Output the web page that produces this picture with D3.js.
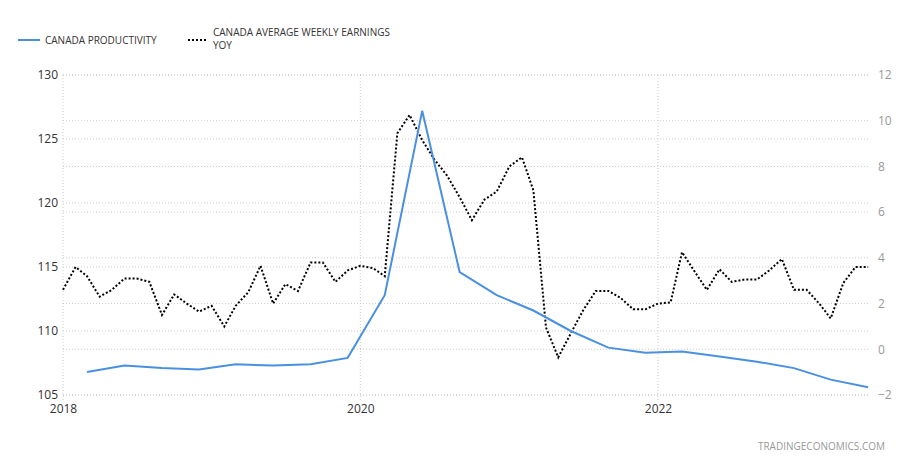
<!DOCTYPE html><html><head><meta charset="utf-8"><script src="https://cdn.jsdelivr.net/npm/d3@7"></script>
<style>body{margin:0;background:#fff;font-family:"Open Sans",Arial,sans-serif}</style></head><body><svg id="c" width="918" height="476"></svg>
<script>
const prodDates=["2018-03","2018-06","2018-09","2018-12","2019-03","2019-06","2019-09","2019-12","2020-03","2020-06","2020-09","2020-12","2021-03","2021-06","2021-09","2021-12","2022-03","2022-06","2022-09","2022-12","2023-03","2023-06"];
const productivity=[106.8,107.3,107.1,107.0,107.4,107.3,107.4,107.9,112.8,127.2,114.6,112.8,111.6,110.0,108.7,108.3,108.4,108.0,107.6,107.1,106.2,105.6];
const earnStart="2018-01";
const earnings=[2.6,3.6,3.2,2.3,2.6,3.1,3.1,2.95,1.5,2.4,2.0,1.65,1.9,1.0,1.9,2.5,3.65,2.0,2.85,2.55,3.8,3.8,2.95,3.45,3.65,3.55,3.2,9.45,10.25,9.15,8.3,7.6,6.65,5.65,6.55,6.9,8.0,8.4,6.95,0.95,-0.35,0.7,1.7,2.55,2.55,2.25,1.75,1.75,2.0,2.05,4.25,3.4,2.6,3.5,2.95,3.05,3.05,3.45,3.95,2.6,2.6,2.0,1.35,2.9,3.6,3.6];
const leftTicks=[105,110,115,120,125,130], rightTicks=[-2,0,2,4,6,8,10,12], xTicks=["2018","2020","2022"];
const svg=d3.select("#c"), p=d3.timeParse("%Y-%m"), py=d3.timeParse("%Y");
const x=d3.scaleTime().domain([py("2018"),py("2022")]).range([63,658]);
const yL=d3.scaleLinear().domain([105,130]).range([395,75]);
const yR=d3.scaleLinear().domain([-2,12]).range([395,75]);
const g=svg.append("g");
const gs="#ccc", gd="1,2";
leftTicks.forEach(t=>g.append("line").attr("x1",63).attr("x2",870).attr("y1",yL(t)).attr("y2",yL(t)).attr("stroke",gs).attr("stroke-dasharray",gd));
rightTicks.forEach(t=>g.append("line").attr("x1",63).attr("x2",870).attr("y1",yR(t)).attr("y2",yR(t)).attr("stroke",gs).attr("stroke-dasharray",gd));
xTicks.forEach(t=>g.append("line").attr("x1",x(py(t))).attr("x2",x(py(t))).attr("y1",75).attr("y2",400).attr("stroke",gs).attr("stroke-dasharray",gd));
const la=svg.append("g").attr("transform","translate(58,0)").call(d3.axisLeft(yL).tickValues(leftTicks).tickSize(0).tickPadding(0));
la.select(".domain").remove();la.selectAll("text").attr("font-size",12).attr("fill","#333").attr("font-family","Open Sans");
const ra=svg.append("g").attr("transform","translate(878,0)").call(d3.axisRight(yR).tickValues(rightTicks).tickSize(0).tickPadding(0));
ra.select(".domain").remove();ra.selectAll("text").attr("font-size",12).attr("fill","#999").attr("font-family","Open Sans");
const xa=svg.append("g").attr("transform","translate(0,402)").call(d3.axisBottom(x).tickValues(xTicks.map(py)).tickFormat(d3.timeFormat("%Y")).tickSize(0).tickPadding(2));
xa.select(".domain").remove();xa.selectAll("text").attr("font-size",12).attr("fill","#333").attr("font-family","Open Sans");
const es=p(earnStart);
const ed=earnings.map((v,i)=>[d3.timeMonth.offset(es,i),v]);
svg.append("path").attr("d",d3.line().x(d=>x(d[0])).y(d=>yR(d[1]))(ed)).attr("fill","none").attr("stroke","#000").attr("stroke-width",2).attr("stroke-dasharray","2,2");
svg.append("path").attr("d",d3.line().x((d,i)=>x(p(prodDates[i]))).y(d=>yL(d))(productivity)).attr("fill","none").attr("stroke","#4a90e2").attr("stroke-width",2);
svg.append("line").attr("x1",18).attr("x2",40).attr("y1",40).attr("y2",40).attr("stroke","#4a90e2").attr("stroke-width",2);
svg.append("text").attr("x",45).attr("y",44).attr("font-size",10).attr("fill","#333").text("CANADA PRODUCTIVITY");
svg.append("line").attr("x1",188).attr("x2",208).attr("y1",40).attr("y2",40).attr("stroke","#000").attr("stroke-width",2).attr("stroke-dasharray","2,2");
svg.append("text").attr("x",213).attr("y",36).attr("font-size",10).attr("fill","#333").text("CANADA AVERAGE WEEKLY EARNINGS");
svg.append("text").attr("x",213).attr("y",49).attr("font-size",10).attr("fill","#333").text("YOY");
svg.append("text").attr("x",885).attr("y",450).attr("text-anchor","end").attr("font-size",10).attr("fill","#999").text("TRADINGECONOMICS.COM");
</script></body></html>
